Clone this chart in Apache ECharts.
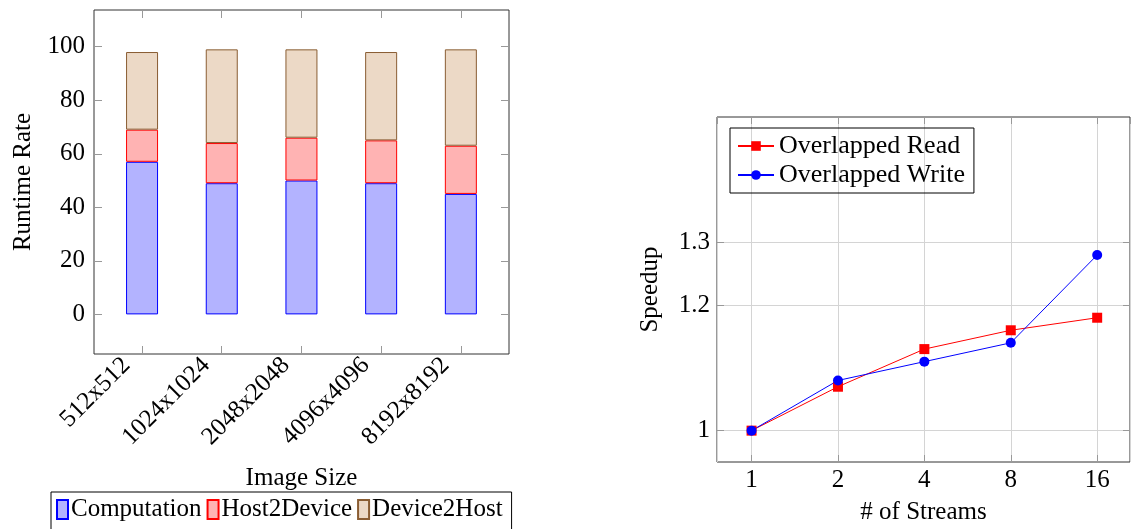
<!DOCTYPE html>
<html><head><meta charset="utf-8">
<script src="https://cdn.jsdelivr.net/npm/echarts@6/dist/echarts.min.js"></script>
<style>html,body{margin:0;padding:0;background:#fff}#c{width:1132px;height:529px}</style>
</head><body><div id="c"></div>
<script>
const sizes = ['512x512','1024x1024','2048x2048','4096x4096','8192x8192'];
const computation = [57, 49, 50, 49, 45];
const host2Device = [12, 15, 16, 16, 18];
const device2Host = [29, 35, 33, 33, 36];
const yTicksLeft = [0, 20, 40, 60, 80, 100];

const streams = [1, 2, 4, 8, 16];
const overlappedRead = [1.0, 1.07, 1.13, 1.16, 1.18];
const overlappedWrite = [1.0, 1.08, 1.11, 1.14, 1.28];
const yTicksRight = [1, 1.2, 1.3];

const FONT = 'Liberation Serif';
const FS = 25;
const idx = sizes.map((_, i) => i);
const tickC = '#999';
const txt = { fontFamily: FONT, fontSize: FS, color: '#000' };
const noLine = { show: false, onZero: false };

const chart = echarts.init(document.getElementById('c'));
chart.setOption({
  animation: false,
  textStyle: { fontFamily: FONT, color: '#000' },
  grid: [
    { left: 94, top: 10, width: 415, height: 344, show: true, borderColor: '#333', borderWidth: 1, outerBoundsMode: 'none', containLabel: false },
    { left: 717, top: 117, width: 413, height: 345, show: true, borderColor: '#333', borderWidth: 1, outerBoundsMode: 'none', containLabel: false },
    { left: 102.2, top: 10, width: 398.5, height: 344, outerBoundsMode: 'none', containLabel: false }
  ],
  xAxis: [
    { gridIndex: 0, type: 'value', min: -0.6, max: 4.6, position: 'bottom',
      axisLine: noLine, splitLine: { show: false },
      axisTick: { inside: true, length: 8, lineStyle: { color: tickC }, customValues: idx },
      axisLabel: Object.assign({ customValues: idx, rotate: 45, margin: -8, padding: [0, 22, 0, 0],
        formatter: v => sizes[Math.round(v)] }, txt),
      name: 'Image Size', nameLocation: 'middle', nameGap: 112, nameTextStyle: txt },
    { gridIndex: 0, type: 'value', min: -0.6, max: 4.6, position: 'top',
      axisLine: noLine, splitLine: { show: false }, axisLabel: { show: false },
      axisTick: { inside: true, length: 8, lineStyle: { color: tickC }, customValues: idx } },
    { gridIndex: 1, type: 'log', logBase: 2, min: 0.7579, max: 20.82, position: 'bottom',
      axisLine: noLine,
      splitLine: { show: true, lineStyle: { color: '#d4d4d4' } },
      axisTick: { inside: true, length: 7, lineStyle: { color: tickC } },
      axisLabel: Object.assign({ margin: 6, showMinLabel: false, showMaxLabel: false }, txt),
      name: '# of Streams', nameLocation: 'middle', nameGap: 38, nameTextStyle: txt },
    { gridIndex: 1, type: 'log', logBase: 2, min: 0.7579, max: 20.82, position: 'top',
      axisLine: noLine, splitLine: { show: false }, axisLabel: { show: false },
      axisTick: { inside: true, length: 7, lineStyle: { color: tickC } } },
    { gridIndex: 2, type: 'category', data: sizes, boundaryGap: true, show: false }
  ],
  yAxis: [
    { gridIndex: 0, type: 'value', min: -14.8, max: 113.7, position: 'left',
      axisLine: noLine, splitLine: { show: false },
      axisTick: { inside: true, length: 8, lineStyle: { color: tickC }, customValues: yTicksLeft },
      axisLabel: Object.assign({ customValues: yTicksLeft, margin: 9 }, txt),
      name: 'Runtime Rate', nameLocation: 'middle', nameGap: 58, nameTextStyle: txt },
    { gridIndex: 0, type: 'value', min: -14.8, max: 113.7, position: 'right',
      axisLine: noLine, splitLine: { show: false }, axisLabel: { show: false },
      axisTick: { inside: true, length: 8, lineStyle: { color: tickC }, customValues: yTicksLeft } },
    { gridIndex: 1, type: 'value', min: 0.95, max: 1.5, position: 'left',
      axisLine: noLine,
      splitLine: { show: true, lineStyle: { color: '#d4d4d4' } },
      axisTick: { inside: true, length: 7, lineStyle: { color: tickC }, customValues: yTicksRight },
      axisLabel: Object.assign({ customValues: yTicksRight, margin: 7, formatter: v => String(v) }, txt),
      name: 'Speedup', nameLocation: 'middle', nameGap: 54, nameTextStyle: txt },
    { gridIndex: 1, type: 'value', min: 0.95, max: 1.5, position: 'right',
      axisLine: noLine, splitLine: { show: false }, axisLabel: { show: false },
      axisTick: { inside: true, length: 7, lineStyle: { color: tickC }, customValues: yTicksRight } },
    { gridIndex: 2, type: 'value', min: -14.8, max: 113.7, show: false, axisLine: noLine }
  ],
  legend: [
    { left: 51, top: 492, orient: 'horizontal', borderColor: '#000', borderWidth: 1,
      padding: [5, 9, 12, 5], itemGap: 5, itemWidth: 11, itemHeight: 19, icon: 'rect',
      textStyle: Object.assign({ padding: [0, 0, 0, -2] }, txt),
      data: ['Computation', 'Host2Device', 'Device2Host'] },
    { left: 730, top: 128, orient: 'vertical', borderColor: '#000', borderWidth: 1,
      padding: [5, 9, 5, 7], itemGap: 3, itemWidth: 36, itemHeight: 12,
      textStyle: Object.assign({}, txt, { fontSize: 26 }),
      data: ['Overlapped Read', 'Overlapped Write'] }
  ],
  series: [
    { name: 'Computation', type: 'bar', stack: 's', xAxisIndex: 4, yAxisIndex: 4, barWidth: 32,
      itemStyle: { color: '#b3b3ff', borderColor: '#0000ff', borderWidth: 1 },
      data: computation },
    { name: 'Host2Device', type: 'bar', stack: 's', xAxisIndex: 4, yAxisIndex: 4, barWidth: 32,
      itemStyle: { color: '#ffb3b3', borderColor: '#ff0000', borderWidth: 1 },
      data: host2Device },
    { name: 'Device2Host', type: 'bar', stack: 's', xAxisIndex: 4, yAxisIndex: 4, barWidth: 32,
      itemStyle: { color: '#ecd9c6', borderColor: '#8a5d33', borderWidth: 1 },
      data: device2Host },
    { name: 'Overlapped Read', type: 'line', xAxisIndex: 2, yAxisIndex: 2,
      symbol: 'rect', symbolSize: 10, lineStyle: { color: '#ff0000', width: 1 },
      itemStyle: { color: '#ff0000' },
      data: streams.map((s, i) => [s, overlappedRead[i]]) },
    { name: 'Overlapped Write', type: 'line', xAxisIndex: 2, yAxisIndex: 2,
      symbol: 'circle', symbolSize: 10, lineStyle: { color: '#0000ff', width: 1 },
      itemStyle: { color: '#0000ff' },
      data: streams.map((s, i) => [s, overlappedWrite[i]]) }
  ]
});
</script></body></html>
